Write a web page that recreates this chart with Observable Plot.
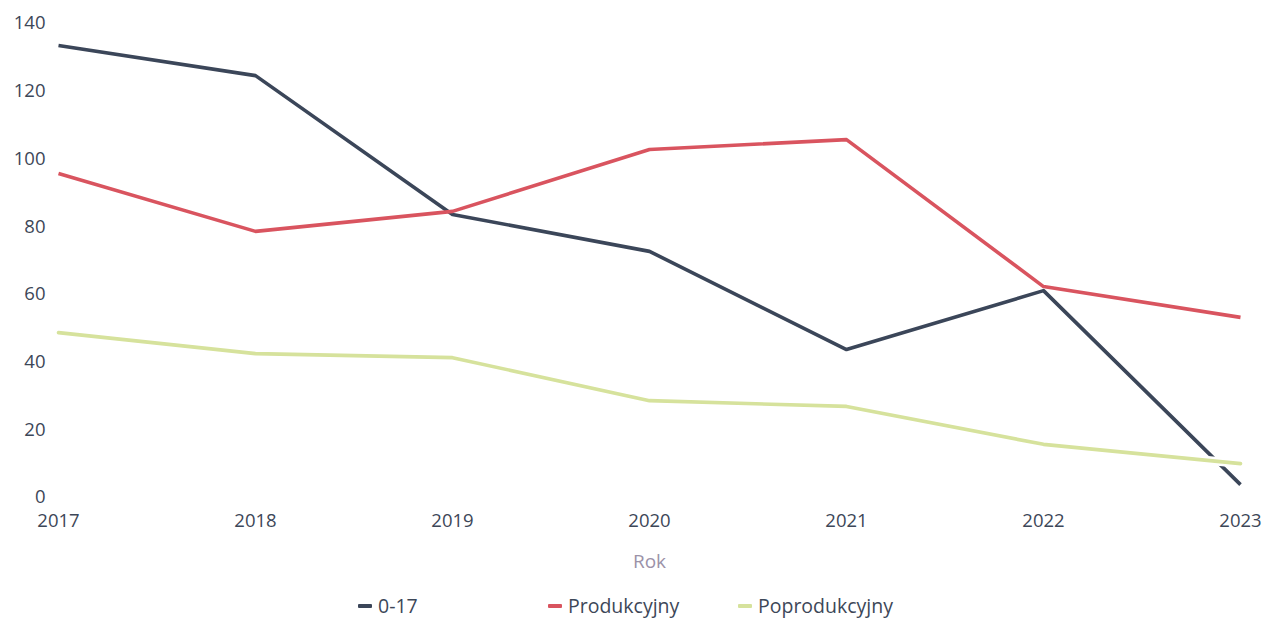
<!DOCTYPE html>
<html>
<head>
<meta charset="utf-8">
<script src="https://cdn.jsdelivr.net/npm/d3@7"></script>
<script src="https://cdn.jsdelivr.net/npm/@observablehq/plot@0.6"></script>
<style>
  body { margin: 0; background: #fff; font-family: "Open Sans", sans-serif; }
  #legend { position: relative; height: 40px; font-size: 19.5px; color: #3d4758; }
  .item { position: absolute; top: 12px; display: flex; align-items: center; }
  .sw { width: 14px; height: 4px; margin-right: 6px; border-radius: 1px; }
</style>
</head>
<body>
<div id="chart"></div>
<div id="legend"></div>
<script>
const years = [2017, 2018, 2019, 2020, 2021, 2022, 2023];
const seriesNames = ["0-17", "Produkcyjny", "Poprodukcyjny"];
const colors = ["#3b4659", "#d9545f", "#d6e29c"];
const v017 = [133.5, 124.6, 83.6, 72.7, 43.7, 61.1, 3.8];
const vProd = [95.7, 78.6, 84.5, 102.8, 105.7, 62.3, 53.2];
const vPoprod = [48.7, 42.5, 41.3, 28.6, 26.9, 15.7, 10.0];
const yTicks = [0, 20, 40, 60, 80, 100, 120, 140];

const allValues = [v017, vProd, vPoprod];
const data = [];
seriesNames.forEach((s, i) => years.forEach((y, j) => data.push({series: s, year: y, value: allValues[i][j]})));

const textColor = "#3d4758";
const plot = Plot.plot({
  width: 1270,
  height: 580,
  marginLeft: 58,
  marginRight: 30,
  marginTop: 23,
  marginBottom: 83,
  style: { fontFamily: "'Open Sans', sans-serif", fontSize: "18.5px", color: textColor, background: "#fff" },
  x: { domain: [2017, 2023], ticks: years, tickFormat: d => String(d), tickSize: 0, tickPadding: 16, label: "Rok", labelAnchor: "center", labelArrow: "none", labelOffset: 70 },
  y: { domain: [0, 140], ticks: yTicks, tickSize: 0, tickPadding: 13, label: null },
  color: { domain: seriesNames, range: colors },
  marks: [
    Plot.line(data.filter(d => d.series !== "Poprodukcyjny"), { x: "year", y: "value", z: "series", stroke: "series", strokeWidth: 3.6, strokeLinejoin: "round", strokeLinecap: "butt" }),
    Plot.line(data.filter(d => d.series === "Poprodukcyjny"), { x: "year", y: "value", stroke: "#fff", strokeWidth: 9 }),
    Plot.line(data.filter(d => d.series === "Poprodukcyjny"), { x: "year", y: "value", stroke: "series", strokeWidth: 3.6, strokeLinejoin: "round" })
  ]
});
d3.select(plot).selectAll("[aria-label='x-axis label'] text").attr("fill", "#9b92a8").style("font-size", "19px");
document.getElementById("chart").appendChild(plot);

const legend = d3.select("#legend");
seriesNames.forEach((s, i) => {
  const it = legend.append("div").attr("class", "item").style("left", (358 + i * 190) + "px");
  it.append("div").attr("class", "sw").style("background", colors[i]);
  it.append("span").text(s);
});
</script>
</body>
</html>
